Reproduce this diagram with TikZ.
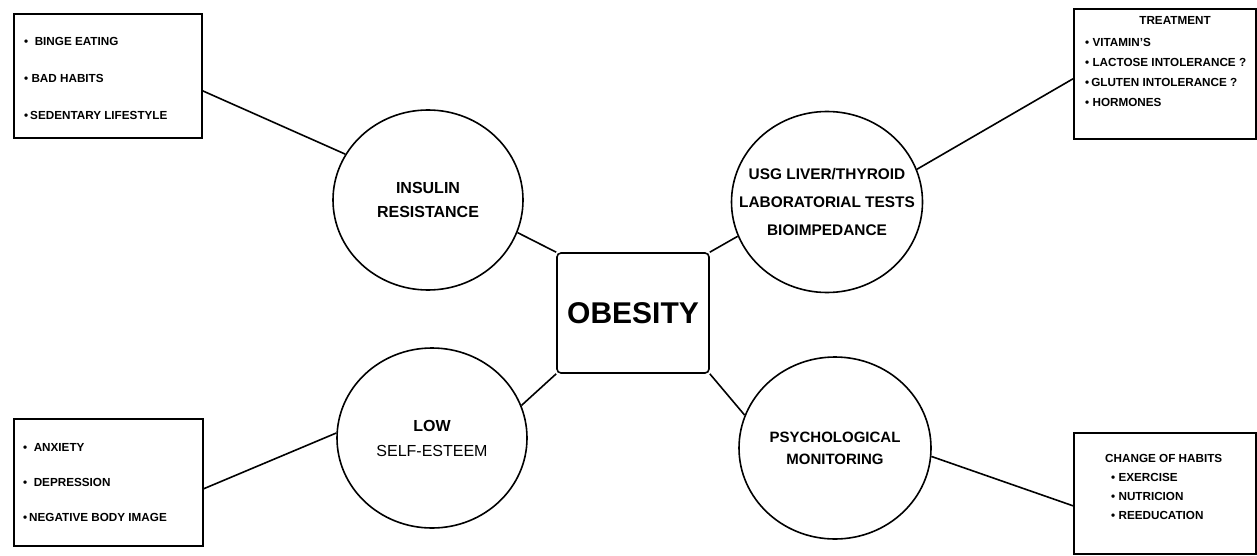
\documentclass[tikz,border=0pt]{standalone}
\usepackage{fontspec}
\setmainfont{Liberation Sans}
\usetikzlibrary{shapes.geometric}

\tikzset{
  bubble/.style={ellipse, draw, line width=1.6pt, minimum width=190pt, minimum height=180pt,
    inner sep=-30pt, align=center, font=\bfseries\fontsize{16}{24}\selectfont},
  listbox/.style={draw, line width=1.6pt, anchor=north west, inner sep=0pt},
  listtext/.style={anchor=west, align=left, inner sep=0pt},
  link/.style={line width=1.6pt}
}

\begin{document}
\begin{tikzpicture}[x=1pt,y=-1pt]
\useasboundingbox (0,0) rectangle (1257,556);

% centre
\node[draw, rounded corners=4pt, line width=1.6pt, minimum width=152pt, minimum height=120pt,
  font=\bfseries\fontsize{30}{30}\selectfont] (obesity) at (633,313) {OBESITY};

% bubbles
\node[bubble] (insulin) at (428,200) {INSULIN\\RESISTANCE};
\node[bubble, minimum width=191pt, minimum height=181pt,
  font=\bfseries\fontsize{15.4}{28}\selectfont] (usg) at (827,202)
  {USG LIVER/THYROID\\LABORATORIAL TESTS\\BIOIMPEDANCE};
\node[bubble, font=\fontsize{16}{25}\selectfont] (esteem) at (432,438) {\textbf{LOW}\\SELF-ESTEEM};
\node[bubble, minimum width=192pt, minimum height=182pt,
  font=\bfseries\fontsize{15}{22}\selectfont] (psych) at (835,448) {PSYCHOLOGICAL\\MONITORING};

% boxes
\node[listbox, minimum width=188pt, minimum height=124pt] (causesbox) at (13,13) {};
\node[listbox, minimum width=182pt, minimum height=130pt] (treatbox) at (1073,8) {};
\node[listbox, minimum width=189pt, minimum height=127pt] (moodbox) at (13,418) {};
\node[listbox, minimum width=182pt, minimum height=121pt] (changebox) at (1073,432) {};

% box texts
\node[listtext, font=\bfseries\fontsize{11.7}{37}\selectfont] (causes) at (24,78.5)
  {\textbullet\ \ BINGE EATING\\\textbullet\ BAD HABITS\\\textbullet\,SEDENTARY LIFESTYLE};
\node[font=\bfseries\fontsize{11.7}{14}\selectfont] (treattitle) at (1175,20) {TREATMENT};
\node[listtext, font=\bfseries\fontsize{11.7}{19.7}\selectfont] (treat) at (1085,72.5)
  {\textbullet\ VITAMIN'S\\\textbullet\ LACTOSE INTOLERANCE ?\\\textbullet\,GLUTEN INTOLERANCE ?\\\textbullet\ HORMONES};
\node[listtext, font=\bfseries\fontsize{11.7}{35}\selectfont] (mood) at (23,483)
  {\textbullet\ \ ANXIETY\\\textbullet\ \ DEPRESSION\\\textbullet\,NEGATIVE BODY IMAGE};
\node[listtext, font=\bfseries\fontsize{11.7}{19}\selectfont] (change) at (1105,486.5)
  {CHANGE OF HABITS\\\hspace{6pt}\textbullet\ EXERCISE\\\hspace{6pt}\textbullet\ NUTRICION\\\hspace{6pt}\textbullet\ REEDUCATION};

% links
\draw[link] ([yshift=-15pt]causesbox.east) -- (insulin.151);
\draw[link] (insulin.-20) -- (obesity.north west);
\draw[link] (usg.-159) -- (obesity.north east);
\draw[link] (usg.20) -- ([yshift=-5pt]treatbox.west);
\draw[link] (esteem.177) -- ([yshift=-6.5pt]moodbox.east);
\draw[link] (esteem.20) -- (obesity.south west);
\draw[link] (psych.160) -- (obesity.south east);
\draw[link] (psych.-5) -- ([yshift=-12.5pt]changebox.west);
\end{tikzpicture}
\end{document}
